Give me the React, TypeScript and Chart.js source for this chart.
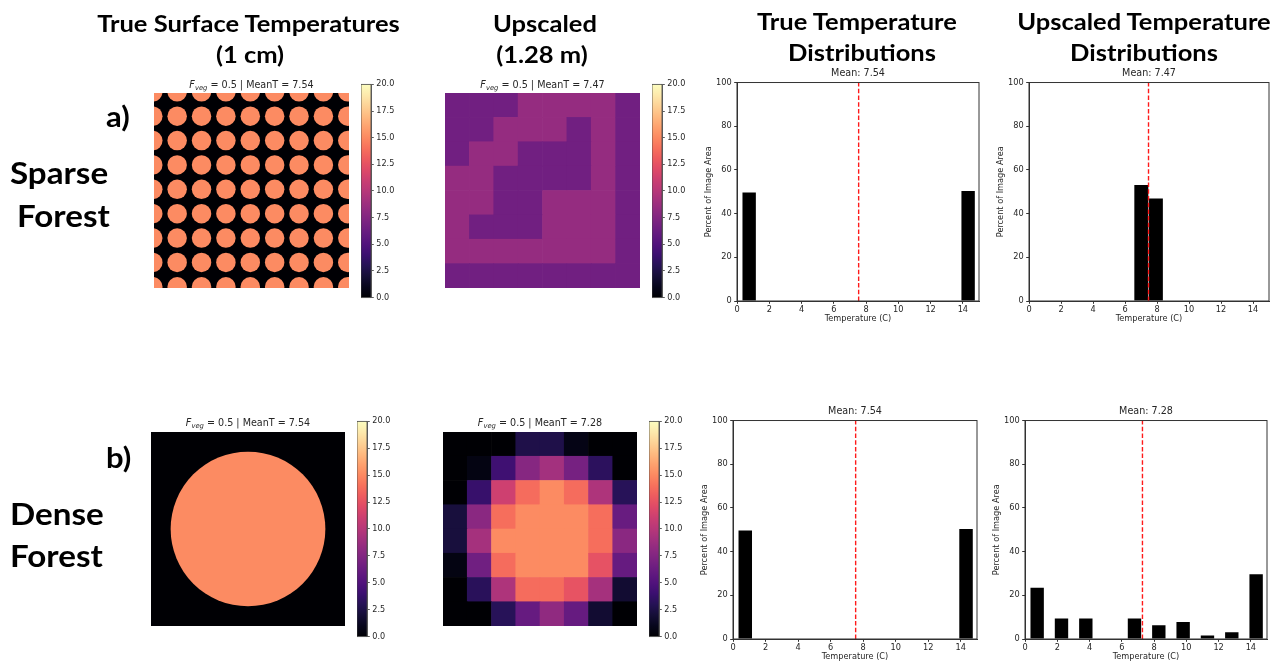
import React, { useEffect, useRef } from "react";
import { Chart, registerables } from "chart.js";

Chart.register(...registerables);

// ---------------- data ----------------
const COLOR_MIN = 0;
const COLOR_MAX = 20;
const COLORBAR_STEP = 2.5;

const FVEG = 0.5;
const GROUND_TEMP = 0;
const CANOPY_TEMP = 15.08;
const IMAGE_CELLS = 8;

// canopy crowns of the sparse forest (centres in upscaled-cell units)
const SPARSE_CENTERS_X = [-0.05, 0.95, 1.95, 2.95, 3.95, 4.95, 5.95, 6.95, 7.95];
const SPARSE_CENTERS_Y = [-0.05, 0.95, 1.95, 2.95, 3.95, 4.95, 5.95, 6.95, 7.95];
const SPARSE_RADIUS = 0.4;
// single crown of the dense forest
const DENSE_CENTERS_X = [4];
const DENSE_CENTERS_Y = [4];
const DENSE_RADIUS = 3.19;

// upscaled (1.28 m) images, rows top -> bottom
const SPARSE_UP_ROW_0 = [6.64, 6.64, 6.64, 8.41, 8.41, 8.41, 8.41, 6.64];
const SPARSE_UP_ROW_1 = [6.64, 6.64, 8.41, 8.41, 8.41, 6.64, 8.41, 6.64];
const SPARSE_UP_ROW_2 = [6.64, 8.41, 8.41, 6.64, 6.64, 6.64, 8.41, 6.64];
const SPARSE_UP_ROW_3 = [8.41, 8.41, 6.64, 6.64, 6.64, 6.64, 8.41, 6.64];
const SPARSE_UP_ROW_4 = [8.41, 8.41, 6.64, 6.64, 8.41, 8.41, 8.41, 6.64];
const SPARSE_UP_ROW_5 = [8.41, 6.64, 6.64, 6.64, 8.41, 8.41, 8.41, 6.64];
const SPARSE_UP_ROW_6 = [8.41, 8.41, 8.41, 8.41, 8.41, 8.41, 8.41, 6.64];
const SPARSE_UP_ROW_7 = [6.64, 6.64, 6.64, 6.64, 6.64, 6.64, 6.64, 6.64];

const DENSE_UP_ROW_0 = [0, 0, 0, 2.6, 2.6, 0.7, 0, 0];
const DENSE_UP_ROW_1 = [0, 0.6, 4.2, 7.7, 9.1, 6.9, 3.3, 0];
const DENSE_UP_ROW_2 = [0, 3.8, 11.2, 13.8, 15.08, 13.8, 9.6, 3.1];
const DENSE_UP_ROW_3 = [2.2, 7.9, 13.9, 15.08, 15.08, 15.08, 13.9, 6.2];
const DENSE_UP_ROW_4 = [2.2, 9.2, 15.08, 15.08, 15.08, 15.08, 13.9, 7.9];
const DENSE_UP_ROW_5 = [0.6, 6.6, 13.8, 15.08, 15.08, 15.08, 12.5, 6.1];
const DENSE_UP_ROW_6 = [0, 3.2, 9.6, 13.8, 13.8, 12.6, 9.2, 1.8];
const DENSE_UP_ROW_7 = [0, 0, 3.1, 6.1, 8.2, 6.1, 1.8, 0];

const SPARSE_UPSCALED = [SPARSE_UP_ROW_0, SPARSE_UP_ROW_1, SPARSE_UP_ROW_2, SPARSE_UP_ROW_3, SPARSE_UP_ROW_4, SPARSE_UP_ROW_5, SPARSE_UP_ROW_6, SPARSE_UP_ROW_7];
const DENSE_UPSCALED = [DENSE_UP_ROW_0, DENSE_UP_ROW_1, DENSE_UP_ROW_2, DENSE_UP_ROW_3, DENSE_UP_ROW_4, DENSE_UP_ROW_5, DENSE_UP_ROW_6, DENSE_UP_ROW_7];

// histograms
const HIST_X_MAX = 15;
const HIST_X_STEP = 2;
const HIST_Y_MAX = 100;
const HIST_Y_STEP = 20;
const BIN_CENTERS = [0.754, 2.262, 3.77, 5.278, 6.786, 8.294, 9.802, 11.31, 12.818, 14.326];
const SPARSE_TRUE_PCT = [49.7, 0, 0, 0, 0, 0, 0, 0, 0, 50.3];
const SPARSE_UP_BIN_CENTERS = [7.02, 7.93];
const SPARSE_UP_PCT = [53.13, 46.88];
const DENSE_TRUE_PCT = [49.7, 0, 0, 0, 0, 0, 0, 0, 0, 50.3];
const DENSE_UP_PCT = [23.44, 9.38, 9.38, 0, 9.38, 6.25, 7.81, 1.56, 3.13, 29.69];

const MEAN_SPARSE_TRUE = 7.54;
const MEAN_SPARSE_UP = 7.47;
const MEAN_DENSE_TRUE = 7.54;
const MEAN_DENSE_UP = 7.28;

// ---------------- colour map (magma) ----------------
const MAGMA_STOPS = [
  "#000004", "#07061c", "#150e37", "#251255", "#3b0f70", "#51127c", "#641a80",
  "#782281", "#8c2981", "#a1307e", "#b73779", "#ca3e72", "#de4968", "#ed5a5f",
  "#f7705c", "#fc8961", "#fea16e", "#feba80", "#fdd296", "#fde9ac", "#fcfdbf",
];
function hexToRgb(h: string) {
  return [parseInt(h.slice(1, 3), 16), parseInt(h.slice(3, 5), 16), parseInt(h.slice(5, 7), 16)];
}
function magma(v: number) {
  let t = (v - COLOR_MIN) / (COLOR_MAX - COLOR_MIN);
  t = Math.max(0, Math.min(1, t));
  const p = t * (MAGMA_STOPS.length - 1);
  const i = Math.min(MAGMA_STOPS.length - 2, Math.floor(p));
  const f = p - i;
  const a = hexToRgb(MAGMA_STOPS[i]);
  const b = hexToRgb(MAGMA_STOPS[i + 1]);
  const c = a.map((x, k) => Math.round(x + (b[k] - x) * f));
  return `rgb(${c[0]},${c[1]},${c[2]})`;
}

// ---------------- chart helpers ----------------
const MPL_FONT = "DejaVu Sans";
const TEXT_COLOR = "#262626";

const baseOptions = {
  animation: false as const,
  responsive: false,
  events: [] as any[],
  plugins: { legend: { display: false }, tooltip: { enabled: false } },
};

function framePlugin(color: string, lw: number) {
  return {
    id: "frame",
    afterDraw(chart: any) {
      const { ctx, chartArea: a } = chart;
      ctx.save();
      ctx.strokeStyle = color;
      ctx.lineWidth = lw;
      ctx.strokeRect(a.left, a.top, a.right - a.left, a.bottom - a.top);
      ctx.restore();
    },
  };
}

function groundPlugin(color: string) {
  return {
    id: "ground",
    beforeDatasetsDraw(chart: any) {
      const { ctx, chartArea: a } = chart;
      ctx.save();
      ctx.fillStyle = color;
      ctx.fillRect(a.left, a.top, a.right - a.left, a.bottom - a.top);
      ctx.restore();
    },
  };
}

function crownsConfig(xs: number[], ys: number[], radius: number) {
  const points: { x: number; y: number }[] = [];
  ys.forEach((y) => xs.forEach((x) => points.push({ x, y })));
  const rad = (ctx: any) => {
    const s = ctx.chart.scales.x;
    if (!s) return 0;
    const r = Math.abs(s.getPixelForValue(radius) - s.getPixelForValue(0));
    return isFinite(r) ? r : 0;
  };
  return {
    type: "scatter" as const,
    data: {
      datasets: [
        {
          data: points,
          backgroundColor: magma(CANOPY_TEMP),
          borderWidth: 0,
          pointRadius: rad,
          pointHoverRadius: rad,
          clip: 0,
        },
      ],
    },
    options: {
      ...baseOptions,
      layout: { padding: 0 },
      scales: {
        x: { type: "linear" as const, display: false, min: 0, max: IMAGE_CELLS },
        y: { type: "linear" as const, display: false, min: 0, max: IMAGE_CELLS, reverse: true },
      },
    },
    plugins: [groundPlugin(magma(GROUND_TEMP))],
  };
}

function gridConfig(grid: number[][]) {
  const labels = grid[0].map((_, c) => String(c));
  const datasets = grid
    .slice()
    .reverse()
    .map((row) => ({
      data: row.map(() => 1),
      backgroundColor: row.map((v) => magma(v)),
      borderWidth: 0,
      barPercentage: 1,
      categoryPercentage: 1,
    }));
  return {
    type: "bar" as const,
    data: { labels, datasets },
    options: {
      ...baseOptions,
      layout: { padding: 0 },
      scales: {
        x: { display: false, stacked: true },
        y: { display: false, stacked: true, min: 0, max: grid.length },
      },
    },
  };
}

function colorbarConfig() {
  return {
    type: "bar" as const,
    data: {
      labels: [""],
      datasets: [
        {
          data: [[COLOR_MIN, COLOR_MAX]],
          backgroundColor: (ctx: any) => {
            const chart = ctx.chart;
            const y = chart.scales && chart.scales.y;
            if (!y) return "#000";
            const p0 = y.getPixelForValue(COLOR_MIN);
            const p1 = y.getPixelForValue(COLOR_MAX);
            if (!isFinite(p0) || !isFinite(p1) || p0 === p1) return "#000";
            const g = chart.ctx.createLinearGradient(0, p0, 0, p1);
            MAGMA_STOPS.forEach((c, i) => g.addColorStop(i / (MAGMA_STOPS.length - 1), c));
            return g;
          },
          borderWidth: 0,
          barPercentage: 1,
          categoryPercentage: 1,
        },
      ],
    },
    options: {
      ...baseOptions,
      layout: { padding: { top: 6, bottom: 6, left: 0, right: 0 } },
      scales: {
        x: { display: false },
        y: {
          position: "right" as const,
          min: COLOR_MIN,
          max: COLOR_MAX,
          ticks: {
            stepSize: COLORBAR_STEP,
            callback: (v: any) => Number(v).toFixed(1),
            font: { family: MPL_FONT, size: 8.1 },
            color: TEXT_COLOR,
            padding: 2.5,
          },
          grid: { drawOnChartArea: false, drawTicks: true, tickLength: 2.8, tickColor: "#333", tickWidth: 0.8 },
          border: { display: true, color: "#444", width: 0.8 },
          afterFit: (s: any) => {
            s.width = 26;
          },
        },
      },
    },
    plugins: [framePlugin("#444", 0.8)],
  };
}

function histConfig(centers: number[], pct: number[], barFrac: number, mean: number) {
  const tickFont = { family: MPL_FONT, size: 8.2 };
  return {
    type: "bar" as const,
    data: {
      datasets: [
        {
          type: "line" as const,
          data: [
            { x: mean, y: 0 },
            { x: mean, y: HIST_Y_MAX },
          ],
          borderColor: "#ff1a1a",
          borderWidth: 1.4,
          borderDash: [4.5, 2.2],
          pointRadius: 0,
          order: 0,
        },
        {
          type: "bar" as const,
          data: centers.map((x, i) => ({ x, y: pct[i] })),
          backgroundColor: "#000000",
          borderWidth: 0,
          barPercentage: barFrac,
          categoryPercentage: 1,
          order: 1,
        },
      ],
    },
    options: {
      ...baseOptions,
      layout: { padding: { top: 0, right: 6, left: 0, bottom: 0 } },
      plugins: {
        ...baseOptions.plugins,
        title: {
          display: true,
          fullSize: false,
          text: `Mean: ${mean.toFixed(2)}`,
          font: { family: MPL_FONT, size: 9.6, weight: "normal" as const },
          color: TEXT_COLOR,
          padding: { top: 0, bottom: 3 },
        },
      },
      scales: {
        x: {
          type: "linear" as const,
          min: 0,
          max: HIST_X_MAX,
          offset: false,
          ticks: { stepSize: HIST_X_STEP, includeBounds: false, font: tickFont, color: TEXT_COLOR, padding: 1, maxRotation: 0 },
          grid: { drawOnChartArea: false, drawTicks: true, tickLength: 2.8, tickColor: "#333", offset: false },
          border: { display: true, color: "#333" },
          title: { display: true, text: "Temperature (C)", font: tickFont, color: TEXT_COLOR, padding: { top: 0, bottom: 1 } },
          afterFit: (s: any) => {
            s.height = 24;
          },
        },
        y: {
          min: 0,
          max: HIST_Y_MAX,
          ticks: { stepSize: HIST_Y_STEP, font: tickFont, color: TEXT_COLOR, padding: 2.5 },
          grid: { drawOnChartArea: false, drawTicks: true, tickLength: 2.8, tickColor: "#333" },
          border: { display: true, color: "#333" },
          title: { display: true, text: "Percent of Image Area", font: tickFont, color: TEXT_COLOR, padding: 0 },
          afterFit: (s: any) => {
            s.width = 33;
          },
        },
      },
    },
    plugins: [framePlugin("#333", 1)],
  };
}

function ChartCanvas(props: { left: number; top: number; width: number; height: number; make: () => any }) {
  const ref = useRef<HTMLCanvasElement>(null);
  useEffect(() => {
    let chart: any = null;
    try {
      chart = new Chart(ref.current as HTMLCanvasElement, props.make());
    } catch (e) {
      console.error(e);
    }
    return () => {
      if (chart) chart.destroy();
    };
  }, []);
  return (
    <canvas
      ref={ref}
      width={props.width}
      height={props.height}
      style={{ position: "absolute", left: props.left, top: props.top, width: props.width, height: props.height }}
    />
  );
}

function ImageTitle({ x, y, mean }: { x: number; y: number; mean: number }) {
  return (
    <text x={x} y={y} textAnchor="middle" fontFamily={MPL_FONT} fontSize={9.6} fill={TEXT_COLOR}>
      <tspan fontStyle="italic">F</tspan>
      <tspan fontStyle="italic" fontSize={6.8} dy={2}>veg</tspan>
      <tspan dy={-2}>{` = ${FVEG} | MeanT = ${mean.toFixed(2)}`}</tspan>
    </text>
  );
}

function Head({ x, y, text }: { x: number; y: number; text: string }) {
  return (
    <text transform={`translate(${x} ${y}) scale(1.11 1)`} x={0} y={0} textAnchor="middle">
      {text}
    </text>
  );
}

function RowLabel({ x, y, text, size }: { x: number; y: number; text: string; size: number }) {
  return (
    <text transform={`translate(${x} ${y}) scale(1.07 1)`} x={0} y={0} fontSize={size}>
      {text}
    </text>
  );
}

export default function App() {
  const headFont = "Lato";
  return (
    <div style={{ position: "absolute", left: 0, top: 0, width: 1278, height: 663, background: "#fff", overflow: "hidden" }}>
      {/* row a */}
      <ChartCanvas left={154} top={93} width={195} height={195} make={() => crownsConfig(SPARSE_CENTERS_X, SPARSE_CENTERS_Y, SPARSE_RADIUS)} />
      <ChartCanvas left={361} top={77} width={36} height={228} make={colorbarConfig} />
      <ChartCanvas left={445} top={93} width={195} height={195} make={() => gridConfig(SPARSE_UPSCALED)} />
      <ChartCanvas left={652} top={77} width={36} height={228} make={colorbarConfig} />
      <ChartCanvas left={704} top={68} width={281} height={257} make={() => histConfig(BIN_CENTERS, SPARSE_TRUE_PCT, 0.55, MEAN_SPARSE_TRUE)} />
      <ChartCanvas left={996} top={68} width={279} height={257} make={() => histConfig(SPARSE_UP_BIN_CENTERS, SPARSE_UP_PCT, 0.96, MEAN_SPARSE_UP)} />
      {/* row b */}
      <ChartCanvas left={151} top={432} width={194} height={194} make={() => crownsConfig(DENSE_CENTERS_X, DENSE_CENTERS_Y, DENSE_RADIUS)} />
      <ChartCanvas left={357} top={414} width={36} height={230} make={colorbarConfig} />
      <ChartCanvas left={443} top={432} width={194} height={194} make={() => gridConfig(DENSE_UPSCALED)} />
      <ChartCanvas left={649} top={414} width={36} height={230} make={colorbarConfig} />
      <ChartCanvas left={700} top={406} width={283} height={257} make={() => histConfig(BIN_CENTERS, DENSE_TRUE_PCT, 0.55, MEAN_DENSE_TRUE)} />
      <ChartCanvas left={992} top={406} width={281} height={257} make={() => histConfig(BIN_CENTERS, DENSE_UP_PCT, 0.55, MEAN_DENSE_UP)} />

      <svg width={1278} height={663} style={{ position: "absolute", left: 0, top: 0, pointerEvents: "none" }}>
        <g fontFamily={headFont} fontWeight="bold" fontSize={23} fill="#000">
          <Head x={248.5} y={32.3} text="True Surface Temperatures" />
          <Head x={250} y={63.3} text="(1 cm)" />
          <Head x={545} y={32.3} text="Upscaled" />
          <Head x={542} y={63.3} text="(1.28 m)" />
          <Head x={857} y={30} text="True Temperature" />
          <Head x={862} y={61} text="Distributions" />
          <Head x={1144} y={30} text="Upscaled Temperature" />
          <Head x={1144} y={61} text="Distributions" />
        </g>
        <g fontFamily={headFont} fontWeight="bold" fill="#000">
          <RowLabel x={106} y={127} text="a)" size={29} />
          <RowLabel x={10} y={184.3} text="Sparse" size={31} />
          <RowLabel x={17} y={226.7} text="Forest" size={31} />
          <RowLabel x={106} y={468} text="b)" size={29} />
          <RowLabel x={10} y={525} text="Dense" size={31} />
          <RowLabel x={10} y={567} text="Forest" size={31} />
        </g>
        <ImageTitle x={251.5} y={88.3} mean={MEAN_SPARSE_TRUE} />
        <ImageTitle x={542.5} y={88.3} mean={MEAN_SPARSE_UP} />
        <ImageTitle x={248} y={425.5} mean={MEAN_DENSE_TRUE} />
        <ImageTitle x={540} y={425.5} mean={MEAN_DENSE_UP} />
      </svg>
    </div>
  );
}
